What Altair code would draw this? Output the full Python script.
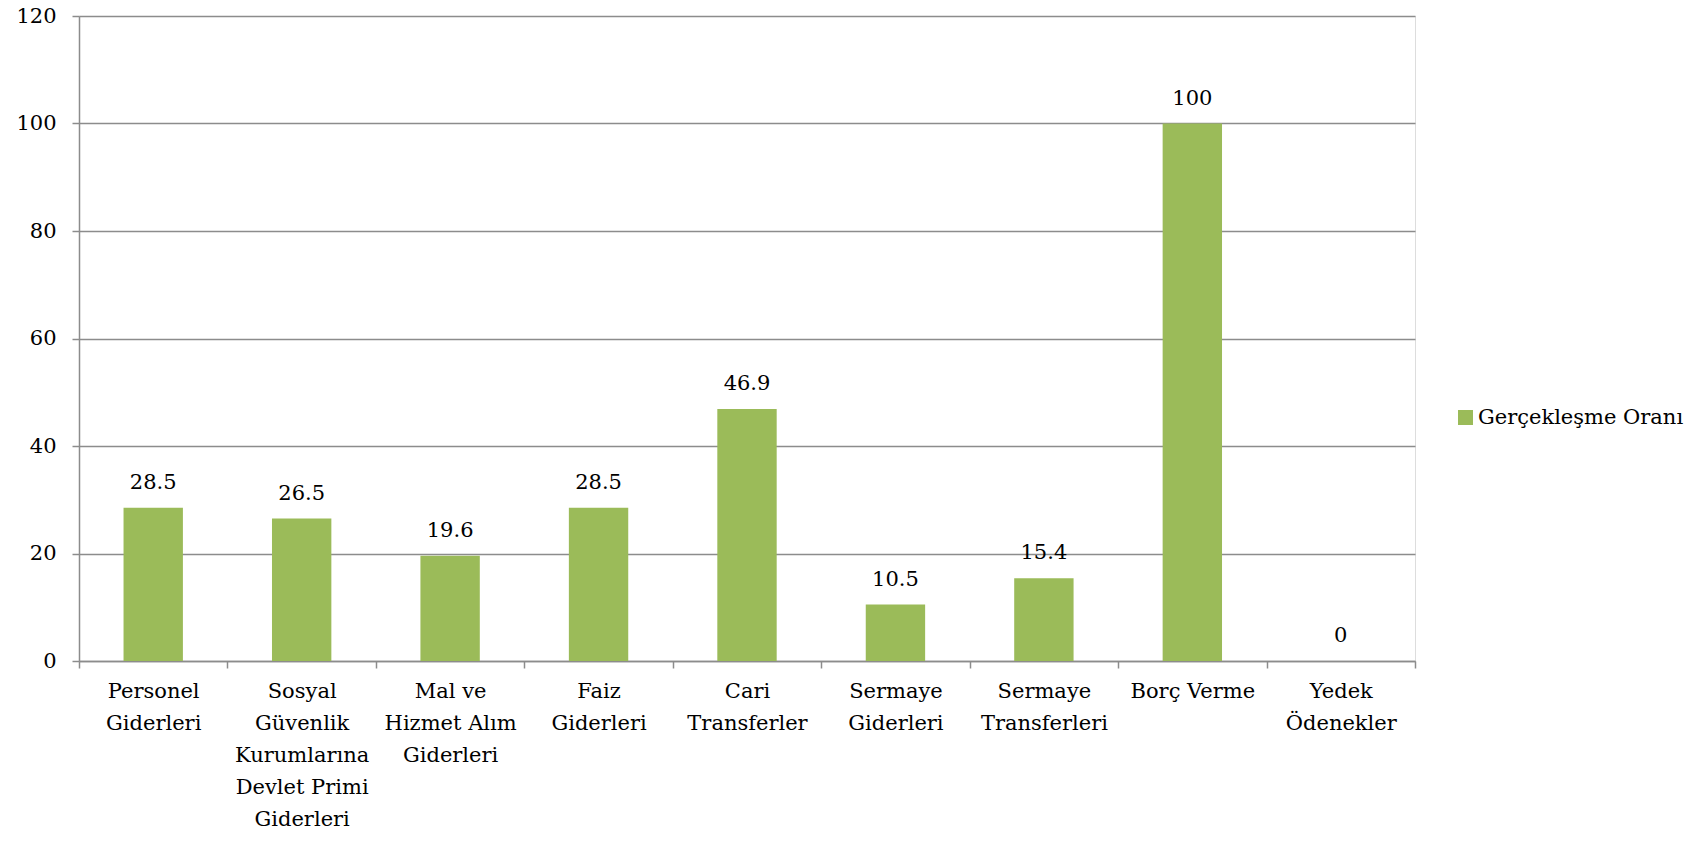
import altair as alt
import pandas as pd

categories = [
    "Personel|Giderleri",
    "Sosyal|Güvenlik|Kurumlarına|Devlet Primi|Giderleri",
    "Mal ve|Hizmet Alım|Giderleri",
    "Faiz|Giderleri",
    "Cari|Transferler",
    "Sermaye|Giderleri",
    "Sermaye|Transferleri",
    "Borç Verme",
    "Yedek|Ödenekler",
]
values = [28.5, 26.5, 19.6, 28.5, 46.9, 10.5, 15.4, 100, 0]
series = ["Gerçekleşme Oranı"] * len(categories)
y_ticks = [0, 20, 40, 60, 80, 100, 120]

df = pd.DataFrame({"cat": categories, "val": values, "series": series})

FONT = "DejaVu Serif"
FS = 21
GRAY = "#8c8c8c"

x_enc = alt.X(
    "cat:N",
    sort=categories,
    scale=alt.Scale(paddingInner=0, paddingOuter=0),
    axis=alt.Axis(
        title=None,
        labelAngle=0,
        labelExpr="datum.label ? split(datum.label, '|') : ''",
        labelFont=FONT,
        labelFontSize=FS,
        labelColor="black",
        labelLineHeight=32,
        labelPadding=12,
        labelBaseline="top",
        tickBand="extent",
        tickSize=7,
        tickColor=GRAY,
        tickWidth=1.5,
        domainColor=GRAY,
        domainWidth=1.5,
        grid=False,
        labelLimit=300,
    ),
)
y_enc = alt.Y(
    "val:Q",
    scale=alt.Scale(domain=[0, 120], nice=False),
    axis=alt.Axis(
        title=None,
        values=y_ticks,
        labelFont=FONT,
        labelFontSize=FS,
        labelColor="black",
        labelPadding=16,
        tickSize=7,
        tickColor=GRAY,
        tickWidth=1.5,
        domainColor=GRAY,
        domainWidth=1.5,
        grid=True,
        gridColor=GRAY,
        gridWidth=1.5,
    ),
)

bars = alt.Chart(df).mark_bar(color="#9BBB59", width=alt.RelativeBandSize(0.4)).encode(
    x=x_enc,
    y=y_enc,
    color=alt.Color(
        "series:N",
        scale=alt.Scale(range=["#9BBB59"]),
        legend=alt.Legend(
            title=None,
            orient="none",
            legendX=1376,
            legendY=391,
            symbolType="square",
            symbolSize=225,
            symbolStrokeWidth=0,
            labelFont=FONT,
            labelFontSize=FS,
            labelColor="black",
            labelOffset=2,
            padding=0,
            labelLimit=400,
        ),
    ),
)

text = alt.Chart(df).mark_text(
    font=FONT, fontSize=FS, color="black", baseline="alphabetic", dy=-19
).encode(
    x=alt.X("cat:N", sort=categories),
    y=alt.Y("val:Q"),
    text=alt.Text("val:Q", format=".1~f"),
)

chart = (
    alt.layer(bars, text)
    .properties(
        width=1336,
        height=645,
        autosize=alt.AutoSizeParams(type="none"),
        padding={"left": 71, "top": 8, "right": 280, "bottom": 170},
    )
    .configure_view(stroke=None)
    .configure(background="white")
)

chart.save("out.html", embed_options={"renderer": "svg", "actions": False})
